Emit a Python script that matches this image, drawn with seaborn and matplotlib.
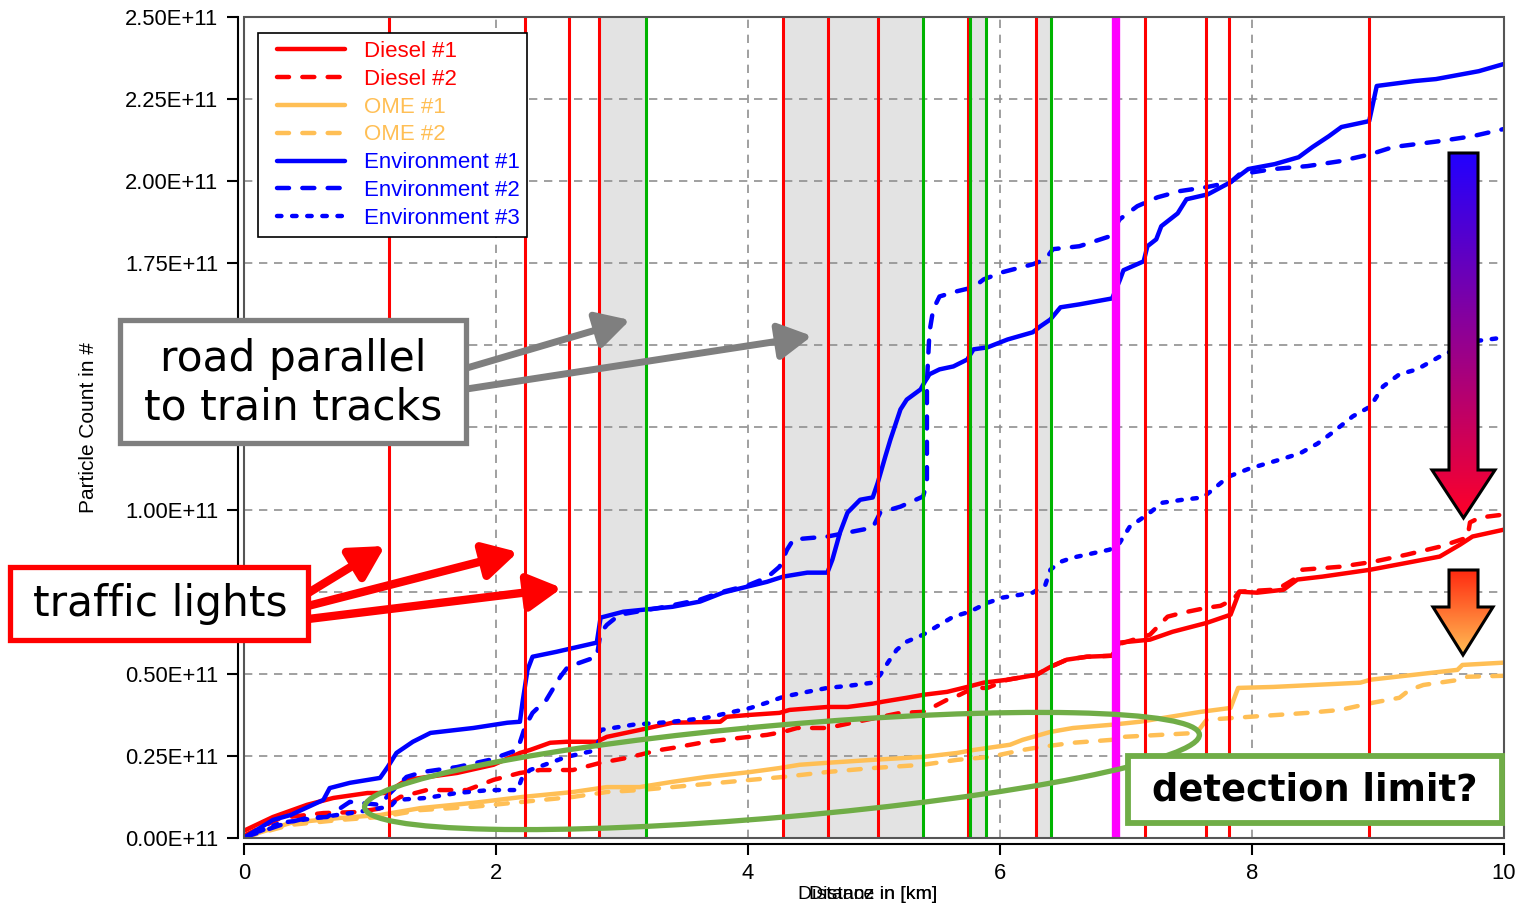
import matplotlib
matplotlib.use("Agg")
import matplotlib.pyplot as plt
import numpy as np
import pandas as pd
import seaborn as sns
from matplotlib.patches import Rectangle, Ellipse, Polygon
from matplotlib.colors import LinearSegmentedColormap
from matplotlib.ticker import FuncFormatter
from matplotlib.lines import Line2D
from matplotlib.legend_handler import HandlerLine2D

sns.set_style("ticks")
plt.rcParams["font.family"] = ["Liberation Sans", "DejaVu Sans"]
plt.rcParams["text.color"] = "black"
plt.rcParams["axes.labelcolor"] = "black"

# Kumulierte Partikelanzahl (in 1E+11) über der Strecke (km)
diesel1_km = [0.01, 0.23, 0.50, 0.71, 0.98, 1.13, 1.29, 1.69, 1.98, 2.19, 2.27, 2.43, 2.56, 2.80, 2.88, 3.14, 3.40, 3.78,
              3.83, 4.02, 4.25, 4.33, 4.63, 4.79, 4.99, 5.07, 5.26, 5.39, 5.58, 5.74, 5.87, 6.06, 6.29, 6.40, 6.53, 6.69,
              6.89, 6.95, 7.19, 7.37, 7.64, 7.83, 7.90, 8.04, 8.25, 8.36, 8.56, 8.94, 9.23, 9.49, 9.65, 9.75, 10.0]
diesel1_val = [0.024, 0.064, 0.101, 0.122, 0.137, 0.137, 0.177, 0.198, 0.223, 0.259, 0.268, 0.290, 0.293, 0.293, 0.308,
               0.329, 0.351, 0.354, 0.369, 0.375, 0.381, 0.390, 0.399, 0.399, 0.409, 0.415, 0.427, 0.436, 0.445, 0.460,
               0.473, 0.482, 0.497, 0.521, 0.543, 0.552, 0.555, 0.595, 0.604, 0.628, 0.655, 0.680, 0.750, 0.747, 0.756,
               0.787, 0.796, 0.817, 0.838, 0.857, 0.893, 0.918, 0.939]

diesel2_km = [0.01, 0.29, 0.63, 0.90, 1.10, 1.24, 1.45, 1.77, 1.98, 2.19, 2.35, 2.61, 2.83, 3.04, 3.20, 3.30, 3.40, 3.67,
              3.94, 4.15, 4.28, 4.39, 4.63, 4.94, 5.21, 5.39, 5.47, 5.58, 5.68, 5.79, 5.90, 6.06, 6.29, 6.40, 6.53, 6.69,
              6.89, 6.95, 7.19, 7.33, 7.45, 7.64, 7.75, 7.85, 7.90, 8.17, 8.22, 8.33, 8.40, 8.70, 8.96, 9.23, 9.49, 9.71,
              9.73, 9.81, 10.0]
diesel2_val = [0.009, 0.061, 0.076, 0.079, 0.091, 0.125, 0.146, 0.146, 0.177, 0.198, 0.207, 0.207, 0.229, 0.244, 0.259,
               0.268, 0.274, 0.293, 0.305, 0.314, 0.323, 0.335, 0.335, 0.360, 0.381, 0.384, 0.399, 0.421, 0.436, 0.457,
               0.457, 0.482, 0.497, 0.521, 0.543, 0.552, 0.555, 0.591, 0.619, 0.674, 0.686, 0.701, 0.707, 0.726, 0.750,
               0.756, 0.762, 0.787, 0.817, 0.826, 0.841, 0.863, 0.887, 0.915, 0.961, 0.976, 0.985]

ome1_km = [0.01, 0.37, 0.76, 1.08, 1.40, 1.82, 2.21, 2.61, 2.88, 3.14, 3.40, 3.67, 4.02, 4.25, 4.41, 4.63, 4.99, 5.39,
           5.66, 5.79, 6.08, 6.18, 6.40, 6.58, 6.89, 7.11, 7.59, 7.83, 7.89, 8.17, 8.86, 8.94, 9.63, 9.67, 10.0]
ome1_val = [0.003, 0.046, 0.061, 0.070, 0.091, 0.107, 0.125, 0.140, 0.155, 0.155, 0.171, 0.186, 0.201, 0.213, 0.223,
            0.229, 0.238, 0.247, 0.259, 0.268, 0.284, 0.299, 0.323, 0.335, 0.345, 0.354, 0.384, 0.396, 0.457, 0.460,
            0.473, 0.482, 0.512, 0.527, 0.534]

ome2_km = [0.01, 0.37, 0.76, 1.08, 1.40, 1.82, 2.21, 2.61, 2.88, 3.14, 3.40, 4.02, 4.28, 4.63, 4.99, 5.39, 5.66, 5.92,
           6.18, 6.32, 6.58, 6.89, 6.98, 7.56, 7.64, 7.98, 8.44, 8.70, 8.96, 9.17, 9.25, 9.36, 9.65, 9.71, 10.0]
ome2_val = [0.003, 0.040, 0.055, 0.064, 0.085, 0.095, 0.110, 0.125, 0.140, 0.146, 0.155, 0.177, 0.186, 0.201, 0.213,
            0.223, 0.238, 0.247, 0.268, 0.277, 0.290, 0.299, 0.308, 0.320, 0.360, 0.369, 0.381, 0.390, 0.412, 0.427,
            0.451, 0.466, 0.482, 0.491, 0.494]

env1_km = [0.01, 0.23, 0.37, 0.63, 0.68, 0.84, 1.08, 1.14, 1.21, 1.34, 1.48, 1.82, 2.09, 2.19, 2.21, 2.25, 2.29, 2.48,
           2.80, 2.83, 3.01, 3.40, 3.62, 3.80, 3.99, 4.15, 4.28, 4.47, 4.63, 4.67, 4.73, 4.79, 4.89, 4.99, 5.03, 5.09,
           5.13, 5.21, 5.26, 5.37, 5.40, 5.44, 5.52, 5.63, 5.74, 5.79, 5.90, 6.06, 6.26, 6.32, 6.40, 6.48, 6.63, 6.89,
           6.95, 6.98, 7.14, 7.17, 7.24, 7.28, 7.41, 7.48, 7.65, 7.83, 7.97, 8.18, 8.37, 8.48, 8.61, 8.71, 8.93, 8.99,
           9.29, 9.46, 9.80, 10.0]
env1_val = [0.003, 0.055, 0.070, 0.116, 0.152, 0.168, 0.183, 0.216, 0.259, 0.293, 0.320, 0.335, 0.351, 0.354, 0.412,
            0.512, 0.552, 0.567, 0.595, 0.671, 0.689, 0.704, 0.720, 0.747, 0.765, 0.780, 0.796, 0.808, 0.808, 0.848,
            0.930, 0.991, 1.030, 1.037, 1.082, 1.162, 1.213, 1.305, 1.335, 1.366, 1.387, 1.412, 1.427, 1.436, 1.457,
            1.488, 1.494, 1.518, 1.540, 1.558, 1.579, 1.616, 1.625, 1.643, 1.698, 1.729, 1.756, 1.802, 1.823, 1.863,
            1.902, 1.945, 1.960, 1.997, 2.037, 2.052, 2.073, 2.104, 2.137, 2.165, 2.183, 2.290, 2.305, 2.311, 2.335,
            2.357]

env2_km = [0.01, 0.34, 0.50, 0.66, 0.84, 1.08, 1.16, 1.29, 1.42, 1.69, 1.95, 2.17, 2.23, 2.29, 2.40, 2.51, 2.57, 2.80,
           2.83, 2.88, 2.98, 3.30, 3.62, 3.80, 3.99, 4.15, 4.25, 4.31, 4.36, 4.63, 4.83, 4.99, 5.05, 5.21, 5.39, 5.42,
           5.42, 5.44, 5.47, 5.52, 5.66, 5.79, 5.87, 6.02, 6.26, 6.36, 6.42, 6.63, 6.87, 6.95, 7.09, 7.25, 7.43, 7.64,
           7.83, 7.90, 8.17, 8.44, 8.70, 8.94, 9.12, 9.49, 9.75, 10.0]
env2_val = [0.003, 0.046, 0.061, 0.064, 0.110, 0.101, 0.137, 0.186, 0.201, 0.216, 0.238, 0.268, 0.338, 0.381, 0.421,
            0.491, 0.521, 0.552, 0.625, 0.649, 0.680, 0.701, 0.726, 0.750, 0.768, 0.793, 0.826, 0.878, 0.909, 0.918,
            0.933, 0.945, 0.991, 1.009, 1.040, 1.082, 1.387, 1.540, 1.610, 1.649, 1.665, 1.677, 1.701, 1.723, 1.747,
            1.762, 1.793, 1.802, 1.832, 1.884, 1.924, 1.951, 1.970, 1.982, 1.997, 2.021, 2.037, 2.046, 2.061, 2.082,
            2.104, 2.122, 2.137, 2.159]

env3_km = [0.01, 0.29, 0.63, 0.90, 1.08, 1.16, 1.21, 1.45, 1.69, 1.95, 2.17, 2.21, 2.27, 2.56, 2.80, 2.83, 3.09, 3.30,
           3.40, 3.67, 3.88, 4.02, 4.15, 4.28, 4.47, 4.63, 4.79, 4.99, 5.05, 5.11, 5.18, 5.26, 5.39, 5.52, 5.63, 5.76,
           5.90, 6.02, 6.26, 6.36, 6.40, 6.48, 6.58, 6.87, 6.95, 7.03, 7.17, 7.29, 7.45, 7.61, 7.69, 7.81, 7.98, 8.22,
           8.38, 8.52, 8.64, 8.80, 8.94, 9.04, 9.17, 9.31, 9.49, 9.75, 10.0]
env3_val = [0.003, 0.046, 0.064, 0.079, 0.091, 0.095, 0.116, 0.122, 0.137, 0.146, 0.146, 0.186, 0.207, 0.247, 0.268,
            0.329, 0.345, 0.351, 0.354, 0.366, 0.384, 0.396, 0.412, 0.430, 0.445, 0.457, 0.463, 0.473, 0.497, 0.534,
            0.573, 0.598, 0.619, 0.649, 0.674, 0.689, 0.716, 0.732, 0.747, 0.771, 0.817, 0.841, 0.854, 0.878, 0.899,
            0.948, 0.985, 1.021, 1.030, 1.037, 1.061, 1.100, 1.125, 1.152, 1.171, 1.201, 1.235, 1.284, 1.314, 1.375,
            1.412, 1.427, 1.466, 1.512, 1.524]

series_names = ["Diesel #1", "Diesel #2", "OME #1", "OME #2", "Environment #1", "Environment #2", "Environment #3"]
series_km = [diesel1_km, diesel2_km, ome1_km, ome2_km, env1_km, env2_km, env3_km]
series_val = [diesel1_val, diesel2_val, ome1_val, ome2_val, env1_val, env2_val, env3_val]

# Ereignisse entlang der Strecke
red_lines_km = [1.15, 2.23, 2.58, 2.82, 4.28, 4.635, 5.03, 5.745, 6.285, 7.15, 7.635, 7.815, 8.93]
green_lines_km = [3.19, 5.39, 5.765, 5.89, 6.405]
magenta_km = 6.92
rail_spans_km = [(2.82, 3.19), (4.28, 5.39), (5.765, 5.89), (6.285, 6.405)]

colors = {"Diesel #1": "#ff0000", "Diesel #2": "#ff0000", "OME #1": "#ffbf55", "OME #2": "#ffbf55",
          "Environment #1": "#0000ff", "Environment #2": "#0000ff", "Environment #3": "#0000ff"}
dash_map = {"Diesel #1": "", "Diesel #2": (2.7, 3.0), "OME #1": "", "OME #2": (2.7, 3.0),
            "Environment #1": "", "Environment #2": (2.7, 3.0), "Environment #3": (1.0, 2.4)}

df = pd.concat([pd.DataFrame({"series": n, "km": k, "count": np.array(v) * 1e11})
                for n, k, v in zip(series_names, series_km, series_val)], ignore_index=True)

fig = plt.figure(figsize=(15.17, 9.10), dpi=100)
ax = fig.add_axes([244 / 1517, 1 - 838 / 910, 1260 / 1517, 821 / 910])

for a, b in rail_spans_km:
    ax.axvspan(a, b, color="#e3e3e3", lw=0, zorder=0.3)

sns.lineplot(data=df, x="km", y="count", hue="series", style="series", hue_order=series_names,
             style_order=series_names, palette=colors, dashes=dash_map, estimator=None, sort=False,
             lw=3.2, dash_capstyle="round", solid_capstyle="round", legend=False, ax=ax, zorder=2)
curve_lines = list(ax.get_lines())

for x in red_lines_km:
    ax.axvline(x, color="#ff0000", lw=2.2, zorder=3)
for x in green_lines_km:
    ax.axvline(x, color="#00b400", lw=2.2, zorder=3)
ax.axvline(magenta_km, color="#ff00ff", lw=6, zorder=3)

ax.set_xlim(0, 10)
ax.set_ylim(0, 2.5e11)
ax.set_xticks([0, 2, 4, 6, 8, 10])
ax.set_yticks(np.arange(0, 2.51e11, 0.25e11))
ax.yaxis.set_major_formatter(FuncFormatter(lambda v, p: f"{v / 1e11:.2f}E+11"))
ax.set_axisbelow(True)
ax.grid(True, color="#909090", linestyle=(0, (5, 4)), lw=1.2)
ax.tick_params(axis="both", direction="out", length=8, width=1.5, labelsize=15.8, pad=6, colors="black")

ax.spines["top"].set_visible(False)
ax.spines["right"].set_visible(False)
ax.spines["left"].set_position(("outward", 4.3))
ax.spines["bottom"].set_position(("outward", 4))
for s in ["left", "bottom"]:
    ax.spines[s].set_linewidth(1.5)
    ax.spines[s].set_color("black")
ax.add_patch(Rectangle((0, 0), 1, 1, transform=ax.transAxes, fill=False, ec="#555555", lw=1.5,
                       clip_on=False, zorder=5))

ax.set_ylabel("Particle Count in #", fontsize=15)
ax.yaxis.set_label_coords(-0.116, 0.5)
ax.set_xlabel("Distance in [km]", fontsize=14)
ax.xaxis.set_label_coords(0.495, -0.058)
ax.text(0.499, -0.058, "Distanz in [km]", transform=ax.transAxes, ha="center", va="top", fontsize=14)

leg = ax.legend(curve_lines, series_names, loc="upper left", bbox_to_anchor=(0.011, 0.9805),
                borderaxespad=0, frameon=True, fancybox=False, framealpha=1, edgecolor="black",
                fontsize=16, handlelength=3.56, handletextpad=0.85, labelspacing=0.31, borderpad=0.35,
                labelcolor="linecolor", handler_map={Line2D: HandlerLine2D(xpad=0.5)})
leg.get_frame().set_linewidth(1.2)

# Annotationen in Bildpunkt-Koordinaten
ov = fig.add_axes([0, 0, 1, 1], zorder=10)
ov.set_xlim(0, 1517)
ov.set_ylim(910, 0)
ov.set_autoscale_on(False)
ov.axis("off")
ov.patch.set_alpha(0)

green = "#70ad47"
ov.add_patch(Ellipse((782, 771), 838, 92, angle=-5, fill=False, ec=green, lw=3.8, zorder=2))


def arrow(x0, y0, x1, y1, color, lw, ms):
    ov.annotate("", xy=(x1, y1), xytext=(x0, y0),
                arrowprops=dict(arrowstyle="-|>,head_length=1.0,head_width=0.55", lw=lw, color=color,
                                shrinkA=0, shrinkB=0, mutation_scale=ms), zorder=3)


arrow(300, 598, 385, 546, "#ff0000", 6, 20)
arrow(300, 608, 518, 552, "#ff0000", 6, 20)
arrow(300, 620, 562, 588, "#ff0000", 6, 20)
arrow(460, 370, 630, 320, "#7f7f7f", 5, 20)
arrow(460, 390, 812, 336, "#7f7f7f", 5, 20)

ov.add_patch(Rectangle((10, 567), 298, 73, fc="white", ec="#ff0000", lw=3.8, zorder=4))
ov.text(160, 604, "traffic lights", ha="center", va="center", fontsize=30.5, family="DejaVu Sans",
        color="black", zorder=5)

ov.add_patch(Rectangle((120, 320), 346, 123, fc="white", ec="#7f7f7f", lw=3.8, zorder=4))
ov.text(293, 383, "road parallel\nto train tracks", ha="center", va="center", fontsize=30.5,
        family="DejaVu Sans", linespacing=1.2, color="black", zorder=5)

ov.add_patch(Rectangle((1128, 756), 374, 67, fc="white", ec=green, lw=4.2, zorder=4))
ov.text(1315, 790, "detection limit?", ha="center", va="center", fontsize=26.5, fontweight="bold",
        family="DejaVu Sans", color="black", zorder=5)


def grad_arrow(x0, x1, xs0, xs1, ytop, yneck, ytip, c_top, c_bot):
    pts = [(xs0, ytop), (xs1, ytop), (xs1, yneck), (x1, yneck), ((x0 + x1) / 2, ytip), (x0, yneck), (xs0, yneck)]
    poly = Polygon(pts, closed=True, fc="none", ec="black", lw=2.2, zorder=7)
    ov.add_patch(poly)
    cmap = LinearSegmentedColormap.from_list("g", [c_top, c_bot])
    grad = np.linspace(0, 1, 256).reshape(-1, 1)
    im = ov.imshow(grad, cmap=cmap, extent=(x0, x1, ytip, ytop), origin="upper", aspect="auto", zorder=6)
    im.set_clip_path(poly)


grad_arrow(1432, 1495, 1449, 1478, 153, 470, 518, "#2200ff", "#ff0028")
grad_arrow(1433, 1493, 1449, 1478, 570, 607, 655, "#ff2a10", "#ffbf55")
ov.set_xlim(0, 1517)
ov.set_ylim(910, 0)

fig.savefig("out.png", dpi=100)
